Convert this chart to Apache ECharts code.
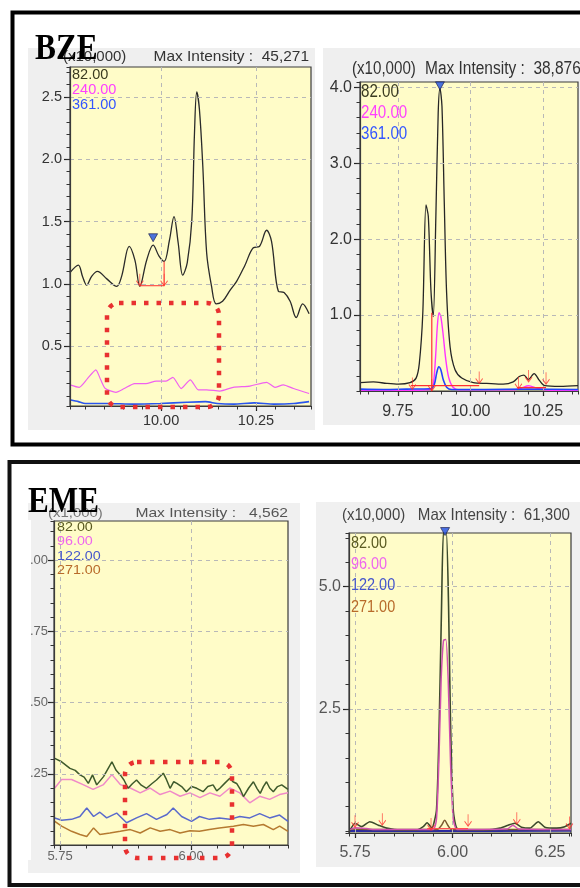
<!DOCTYPE html>
<html>
<head>
<meta charset="utf-8">
<script src="https://cdn.jsdelivr.net/npm/echarts@6/dist/echarts.min.js"></script>
<style>
html, body { margin: 0; padding: 0; background: #fff; }
#main { width: 580px; height: 888px; }
</style>
</head>
<body>
<div id="main"></div>
<script>
// ---- BZE, left chromatogram (x10,000) ----
var bzeA_82 = [[9.760,1.09],[9.782,1.15],[9.793,1.06],[9.804,0.99],[9.817,1.06],[9.832,1.10],[9.857,1.04],[9.883,0.98],[9.896,1.06],[9.916,1.30],[9.931,1.19],[9.944,0.98],[9.962,1.19],[9.979,1.31],[9.995,1.22],[10.008,1.18],[10.022,1.35],[10.034,1.54],[10.045,1.33],[10.057,1.07],[10.069,1.17],[10.081,1.51],[10.088,2.21],[10.094,2.54],[10.101,2.40],[10.110,1.94],[10.120,1.25],[10.133,0.98],[10.145,0.84],[10.162,0.86],[10.182,0.95],[10.199,1.02],[10.221,1.15],[10.243,1.29],[10.259,1.30],[10.278,1.43],[10.291,1.34],[10.309,0.94],[10.324,0.93],[10.340,0.86],[10.356,0.73],[10.373,0.84],[10.390,0.76]];
var bzeA_240 = [[9.760,0.19],[9.784,0.17],[9.806,0.24],[9.828,0.31],[9.841,0.23],[9.853,0.16],[9.881,0.13],[9.903,0.16],[9.930,0.20],[9.960,0.20],[9.987,0.22],[10.013,0.22],[10.031,0.25],[10.053,0.16],[10.077,0.23],[10.098,0.15],[10.120,0.15],[10.155,0.14],[10.190,0.17],[10.234,0.18],[10.278,0.21],[10.300,0.17],[10.322,0.19],[10.349,0.16],[10.390,0.12]];
var bzeA_361 = [[9.760,0.07],[9.782,0.055],[9.800,0.04],[9.857,0.04],[9.927,0.035],[9.998,0.04],[10.068,0.05],[10.117,0.055],[10.148,0.04],[10.192,0.035],[10.245,0.045],[10.297,0.035],[10.350,0.04],[10.390,0.055]];
var bzeA_base = [[9.944,0.985],[10.008,0.985],[10.008,1.18]];
var bzeA_marks = [[9.944,0.985],[10.008,0.985]];
var bzeA_peak = [[9.979,1.37]];

// ---- BZE, right chromatogram (x10,000) ----
var bzeB_82 = [[9.620,0.11],[9.666,0.12],[9.712,0.10],[9.752,0.09],[9.792,0.11],[9.813,0.17],[9.824,0.36],[9.836,1.02],[9.847,2.45],[9.855,2.30],[9.864,1.33],[9.872,0.98],[9.881,2.30],[9.889,3.66],[9.895,3.99],[9.902,3.75],[9.910,2.47],[9.918,1.29],[9.930,0.58],[9.947,0.28],[9.970,0.17],[10.010,0.11],[10.056,0.10],[10.113,0.09],[10.147,0.12],[10.168,0.19],[10.184,0.21],[10.199,0.15],[10.219,0.23],[10.237,0.14],[10.256,0.07],[10.308,0.06],[10.370,0.07]];
var bzeB_240 = [[9.620,0.01],[9.800,0.01],[9.862,0.02],[9.872,0.08],[9.880,0.45],[9.886,0.85],[9.892,1.03],[9.898,0.98],[9.905,0.78],[9.915,0.42],[9.925,0.18],[9.940,0.05],[9.960,0.015],[10.150,0.015],[10.175,0.04],[10.200,0.07],[10.230,0.035],[10.270,0.01],[10.370,0.01]];
var bzeB_361 = [[9.620,0.025],[9.700,0.02],[9.780,0.025],[9.862,0.03],[9.875,0.08],[9.884,0.24],[9.891,0.32],[9.898,0.28],[9.907,0.14],[9.918,0.05],[9.935,0.02],[10.050,0.02],[10.200,0.025],[10.370,0.02]];
var bzeB_base1 = [[9.795,0.07],[10.030,0.07]];
var bzeB_base2 = [[10.160,0.045],[10.260,0.045]];
var bzeB_cut = [[9.867,0.0],[9.867,1.03]];
var bzeB_marks = [[9.800,0.02],[9.867,0.0],[10.030,0.1],[10.165,0.03],[10.200,0.12],[10.260,0.09]];
var bzeB_peak = [[9.895,4.02]];

// ---- EME, left chromatogram (x1,000) ----
var emeA_82 = [[5.740,0.304],[5.753,0.292],[5.769,0.269],[5.779,0.262],[5.788,0.246],[5.796,0.238],[5.804,0.216],[5.812,0.246],[5.820,0.211],[5.833,0.240],[5.849,0.292],[5.857,0.262],[5.865,0.246],[5.872,0.228],[5.880,0.199],[5.888,0.215],[5.896,0.228],[5.905,0.210],[5.915,0.199],[5.925,0.215],[5.934,0.228],[5.947,0.252],[5.953,0.230],[5.960,0.199],[5.967,0.222],[5.973,0.216],[5.982,0.205],[5.991,0.187],[6.001,0.205],[6.011,0.199],[6.023,0.187],[6.032,0.205],[6.042,0.211],[6.049,0.190],[6.055,0.199],[6.065,0.218],[6.074,0.234],[6.080,0.222],[6.087,0.216],[6.094,0.195],[6.100,0.170],[6.110,0.200],[6.119,0.222],[6.126,0.198],[6.132,0.181],[6.138,0.205],[6.144,0.222],[6.150,0.200],[6.157,0.187],[6.165,0.205],[6.173,0.211],[6.185,0.195]];
var emeA_96 = [[5.740,0.200],[5.753,0.230],[5.772,0.230],[5.794,0.212],[5.813,0.195],[5.833,0.212],[5.849,0.247],[5.865,0.212],[5.884,0.200],[5.903,0.183],[5.922,0.200],[5.941,0.177],[5.960,0.189],[5.979,0.171],[5.998,0.183],[6.017,0.166],[6.036,0.183],[6.055,0.171],[6.074,0.200],[6.093,0.183],[6.112,0.148],[6.131,0.171],[6.150,0.160],[6.169,0.177],[6.185,0.183]];
var emeA_122 = [[5.740,0.095],[5.753,0.087],[5.772,0.090],[5.788,0.100],[5.801,0.130],[5.814,0.100],[5.826,0.115],[5.839,0.095],[5.858,0.112],[5.877,0.078],[5.896,0.095],[5.915,0.110],[5.934,0.090],[5.954,0.107],[5.966,0.130],[5.982,0.100],[6.001,0.083],[6.016,0.100],[6.035,0.090],[6.054,0.095],[6.074,0.090],[6.093,0.100],[6.112,0.095],[6.131,0.110],[6.150,0.095],[6.169,0.105],[6.185,0.083]];
var emeA_271 = [[5.740,0.083],[5.753,0.066],[5.772,0.048],[5.788,0.037],[5.801,0.030],[5.814,0.060],[5.826,0.037],[5.845,0.042],[5.865,0.048],[5.884,0.054],[5.903,0.042],[5.922,0.060],[5.941,0.048],[5.960,0.054],[5.979,0.042],[5.998,0.050],[6.016,0.048],[6.035,0.054],[6.054,0.060],[6.081,0.066],[6.100,0.072],[6.119,0.066],[6.138,0.072],[6.157,0.054],[6.169,0.066],[6.185,0.048]];

// ---- EME, right chromatogram (x10,000) ----
var emeB_82 = [[5.737,0.01],[5.750,0.16],[5.767,0.09],[5.788,0.19],[5.810,0.12],[5.831,0.06],[5.865,0.02],[5.908,0.02],[5.925,0.09],[5.935,0.17],[5.947,0.06],[5.959,0.43],[5.966,2.21],[5.972,4.60],[5.977,6.13],[5.984,6.13],[5.990,4.60],[5.995,2.21],[6.002,0.43],[6.011,0.06],[6.036,0.02],[6.088,0.02],[6.122,0.06],[6.143,0.12],[6.160,0.16],[6.177,0.08],[6.199,0.06],[6.220,0.19],[6.237,0.08],[6.267,0.06],[6.288,0.09],[6.304,0.16]];
var emeB_96 = [[5.737,0.03],[5.750,0.07],[5.780,0.05],[5.800,0.03],[5.950,0.03],[5.959,0.25],[5.965,1.40],[5.971,3.10],[5.977,3.90],[5.983,3.92],[5.989,3.10],[5.995,1.40],[6.002,0.25],[6.012,0.03],[6.140,0.04],[6.155,0.12],[6.170,0.04],[6.304,0.03]];
var emeB_122 = [[5.737,0.0],[5.900,0.005],[6.100,0.0],[6.304,0.005]];
var emeB_271 = [[5.737,0.04],[5.800,0.03],[5.960,0.03],[5.972,0.12],[5.980,0.22],[5.988,0.12],[5.998,0.03],[6.304,0.03]];
var emeB_base = [[5.935,0.05],[6.040,0.05]];
var emeB_marks = [[5.750,0.08],[5.820,0.12],[5.945,0.02],[6.040,0.1],[6.165,0.14],[6.300,0.05]];
var emeB_peak = [[5.981,6.13]];

// axis ranges and tick labels
var xRanges = [[9.76, 10.395], [9.62, 10.37], [5.7385, 6.185], [5.7346, 6.304]];
var yRanges = [[0.02, 2.74], [0, 4.07], [0, 1.137], [-0.04, 6.1]];
var xTicks = [[10.00, 10.25], [9.75, 10.00, 10.25], [5.75, 6.00], [5.75, 6.00, 6.25]];
var yTicks = [[0.5, 1.0, 1.5, 2.0, 2.5], [1, 2, 3, 4], [0.25, 0.5, 0.75, 1.0], [2.5, 5.0]];
var yDigits = [1, 1, 2, 1];
// split counts that give minor steps of 0.05 / 0.1 / 0.2 / 0.05 / 0.5
var xMinorSplit = [13, 15, 9, 11];
var yMinorSplit = [27, 20, 23, 12];

var SANS = '"Liberation Sans", Arial, sans-serif';

var grids = [
    {left: 70, top: 67, width: 241, height: 339},
    {left: 360, top: 82, width: 218, height: 309},
    {left: 54, top: 521, width: 234, height: 324},
    {left: 349, top: 533, width: 222, height: 300}
];
// per panel label look
var labelFont = [
    {size: 14.5, color: '#333', xm: 7, ym: 8},
    {size: 16, color: '#333', xm: 13, ym: 8},
    {size: 13, color: '#666', xm: 5, ym: 6},
    {size: 16, color: '#555', xm: 12, ym: 8}
];

var gridOpt = [], xAxes = [], yAxes = [];
for (var i = 0; i < 4; i++) {
    var g = grids[i], f = labelFont[i];
    gridOpt.push({
        left: g.left, top: g.top, width: g.width, height: g.height,
        show: true, backgroundColor: '#fffcc8', borderColor: '#3a3a3a', borderWidth: 1.2,
        outerBoundsMode: 'none'
    });
    (function (digits) {
        xAxes.push({
            type: 'value', gridIndex: i, position: 'bottom', min: xRanges[i][0], max: xRanges[i][1], z: 5,
            axisLine: {show: true, onZero: false, lineStyle: {color: '#3a3a3a', width: 1.2}},
            axisTick: {show: true, customValues: xTicks[i], length: 5, lineStyle: {color: '#222', width: 1.2}},
            axisLabel: {customValues: xTicks[i], margin: f.xm, fontFamily: SANS, fontSize: f.size, color: f.color,
                formatter: function (v) { return v.toFixed(2); }},
            splitLine: {show: true, lineStyle: {color: '#b8b8b8', type: [4, 4]}}
        });
        yAxes.push({
            type: 'value', gridIndex: i, position: 'left', min: yRanges[i][0], max: yRanges[i][1], z: 5,
            axisLine: {show: true, onZero: false, lineStyle: {color: '#3a3a3a', width: 1.2}},
            axisTick: {show: true, customValues: yTicks[i], length: 6, lineStyle: {color: '#222', width: 1.2}},
            axisLabel: {customValues: yTicks[i], margin: f.ym, fontFamily: SANS, fontSize: f.size, color: f.color,
                formatter: function (v) { return v.toFixed(digits); }},
            splitLine: {show: true, lineStyle: {color: '#b8b8b8', type: [4, 4]}}
        });
    })(yDigits[i]);
}
// minor tick axes, overlaid on the main ones
for (var j = 0; j < 4; j++) {
    xAxes.push({
        type: 'value', gridIndex: j, position: 'bottom', min: xRanges[j][0], max: xRanges[j][1], z: 5,
        splitNumber: xMinorSplit[j],
        axisLine: {show: false, onZero: false}, axisLabel: {show: false}, splitLine: {show: false},
        axisTick: {show: true, length: 3.5, lineStyle: {color: '#333', width: 1}}
    });
    yAxes.push({
        type: 'value', gridIndex: j, position: 'left', min: yRanges[j][0], max: yRanges[j][1], z: 5,
        splitNumber: yMinorSplit[j],
        axisLine: {show: false, onZero: false}, axisLabel: {show: false}, splitLine: {show: false},
        axisTick: {show: true, length: 3.5, lineStyle: {color: '#333', width: 1}}
    });
}

function trace(k, data, color, width, smooth, z) {
    return {
        type: 'line', xAxisIndex: k, yAxisIndex: k, data: data, showSymbol: false, silent: true,
        smooth: smooth, clip: true, z: z || 2,
        lineStyle: {color: color, width: width}
    };
}
var ARROW = 'path://M4,0L4,12M0,7L4,12L8,7';
function marks(k, data) {
    return {
        type: 'scatter', xAxisIndex: k, yAxisIndex: k, data: data, symbol: ARROW,
        symbolSize: [7, 12], symbolOffset: [0, -6], z: 6, silent: true,
        itemStyle: {color: 'transparent', borderColor: '#ff2a2a', borderWidth: 1}
    };
}
function peak(k, data) {
    return {
        type: 'scatter', xAxisIndex: k, yAxisIndex: k, data: data, symbol: 'triangle', symbolRotate: 180,
        symbolSize: [9, 8], clip: false, z: 7, silent: true,
        itemStyle: {color: '#1f4fe0', borderColor: '#1a1a40', borderWidth: 0.8}
    };
}

var series = [
    trace(0, bzeA_361, '#2a55ee', 1.6, 0.2),
    trace(0, bzeA_240, '#f060f0', 1.2, 0.2),
    trace(0, bzeA_82, '#2a2a2a', 1.3, 0.35, 3),
    trace(0, bzeA_base, '#ff3030', 1, false, 5),
    marks(0, bzeA_marks),
    peak(0, bzeA_peak),

    trace(1, bzeB_82, '#262626', 1.3, 0.3),
    trace(1, bzeB_240, '#ff33ff', 1.4, 0.3, 3),
    trace(1, bzeB_361, '#2244ff', 1.6, 0.3, 4),
    trace(1, bzeB_base1, '#ff3030', 1.2, false, 5),
    trace(1, bzeB_base2, '#ff3030', 1.2, false, 5),
    trace(1, bzeB_cut, '#ff3030', 1.2, false, 5),
    marks(1, bzeB_marks),
    peak(1, bzeB_peak),

    trace(2, emeA_271, '#b57a30', 1.5, false),
    trace(2, emeA_122, '#5a6acc', 1.5, false),
    trace(2, emeA_96, '#f08ac8', 1.5, false),
    trace(2, emeA_82, '#3f5a2c', 1.5, false, 3),

    trace(3, emeB_122, '#2a2aa0', 2, false),
    trace(3, emeB_271, '#7a5a30', 1.5, 0.3),
    trace(3, emeB_82, '#3c4a2c', 1.6, 0.2, 3),
    trace(3, emeB_96, '#d050b0', 1.5, 0.2, 4),
    trace(3, emeB_base, '#ff5050', 1.2, false, 5),
    marks(3, emeB_marks),
    peak(3, emeB_peak)
];

// text squeezed or stretched horizontally to match the source face
function txt(x, y, s, size, color, align, sx) {
    return {type: 'text', z: 20, silent: true, x: x, y: y, scaleX: sx || 1,
        style: {x: 0, y: 0, text: s, font: size + 'px ' + SANS, fill: color, align: align || 'left', verticalAlign: 'middle'}};
}
function panel(x, y, w, h, color) {
    return {type: 'rect', zlevel: -1, z: -10, silent: true, shape: {x: x, y: y, width: w, height: h}, style: {fill: color}};
}
var legendA = ['82.00', '240.00', '361.00'];
var legendAColors = ['#3a3a20', '#ff40ff', '#3355ff'];
var legendB = ['82.00', '96.00', '122.00', '271.00'];
var legendBColors = ['#5a5a20', '#ee66ee', '#4455cc', '#b86a2a'];

var graphics = [
    // grey panel backgrounds, on a layer under everything
    panel(28, 48, 287, 382, '#efefef'),
    panel(323, 48, 257, 377, '#efefef'),
    panel(28, 503, 272, 370, '#f0f0f0'),
    panel(316, 502, 264, 365, '#f0f0f0'),
    // cropped edge of the EME left panel
    {type: 'rect', z: 90, silent: true, shape: {x: 12, y: 520, width: 19, height: 340}, style: {fill: '#fff'}},
    // frames
    {type: 'rect', z: 100, silent: true, shape: {x: 12.5, y: 12.5, width: 620, height: 432}, style: {fill: 'none', stroke: '#000', lineWidth: 4}},
    {type: 'rect', z: 100, silent: true, shape: {x: 9.5, y: 462, width: 620, height: 423}, style: {fill: 'none', stroke: '#111', lineWidth: 4}},
    // red dotted highlight boxes
    {type: 'rect', z: 95, silent: true, shape: {x: 107, y: 303, width: 112, height: 104, r: 12},
        style: {fill: 'none', stroke: '#e83030', lineWidth: 4.5, lineDash: [4.5, 8]}},
    {type: 'rect', z: 95, silent: true, shape: {x: 125, y: 762, width: 107, height: 96, r: 12},
        style: {fill: 'none', stroke: '#e83030', lineWidth: 4.5, lineDash: [4.5, 8.5]}},
    // headers
    txt(63, 57, '(x10,000)', 15, '#333'),
    txt(309, 57, 'Max Intensity :  45,271', 15, '#333', 'right', 1.03),
    txt(352, 69, '(x10,000)', 18, '#333', 'left', 0.84),
    txt(425, 69, 'Max Intensity :  38,876', 18, '#333', 'left', 0.86),
    txt(48, 513, '(x1,000)', 13, '#777', 'left', 1.15),
    txt(288, 513, 'Max Intensity :   4,562', 13, '#555', 'right', 1.2),
    txt(342, 515, '(x10,000)', 17, '#444', 'left', 0.88),
    txt(570, 515, 'Max Intensity :  61,300', 17, '#444', 'right', 0.89),
    // titles
    {type: 'text', z: 110, x: 35, y: 50, scaleX: 0.87, silent: true,
        style: {x: 0, y: 0, text: 'BZE', font: 'bold 36px "Liberation Serif", serif', fill: '#000', verticalAlign: 'middle'}},
    {type: 'text', z: 110, x: 28, y: 503, scaleX: 0.89, silent: true,
        style: {x: 0, y: 0, text: 'EME', font: 'bold 35px "Liberation Serif", serif', fill: '#000', verticalAlign: 'middle'}}
];
for (var a = 0; a < legendA.length; a++) {
    graphics.push(txt(72, 75 + a * 15, legendA[a], 14.5, legendAColors[a]));
    graphics.push(txt(361, 92 + a * 21, legendA[a], 18, legendAColors[a], 'left', 0.84));
}
for (var b = 0; b < legendB.length; b++) {
    graphics.push(txt(57, 527 + b * 14.5, legendB[b], 13, legendBColors[b], 'left', 1.1));
    graphics.push(txt(351, 543 + b * 21.3, legendB[b], 17, legendBColors[b], 'left', 0.85));
}

var myChart = echarts.init(document.getElementById('main'));
myChart.setOption({
    animation: false,
    backgroundColor: '#fff',
    grid: gridOpt,
    xAxis: xAxes,
    yAxis: yAxes,
    series: series,
    graphic: graphics
});
</script>
</body>
</html>
